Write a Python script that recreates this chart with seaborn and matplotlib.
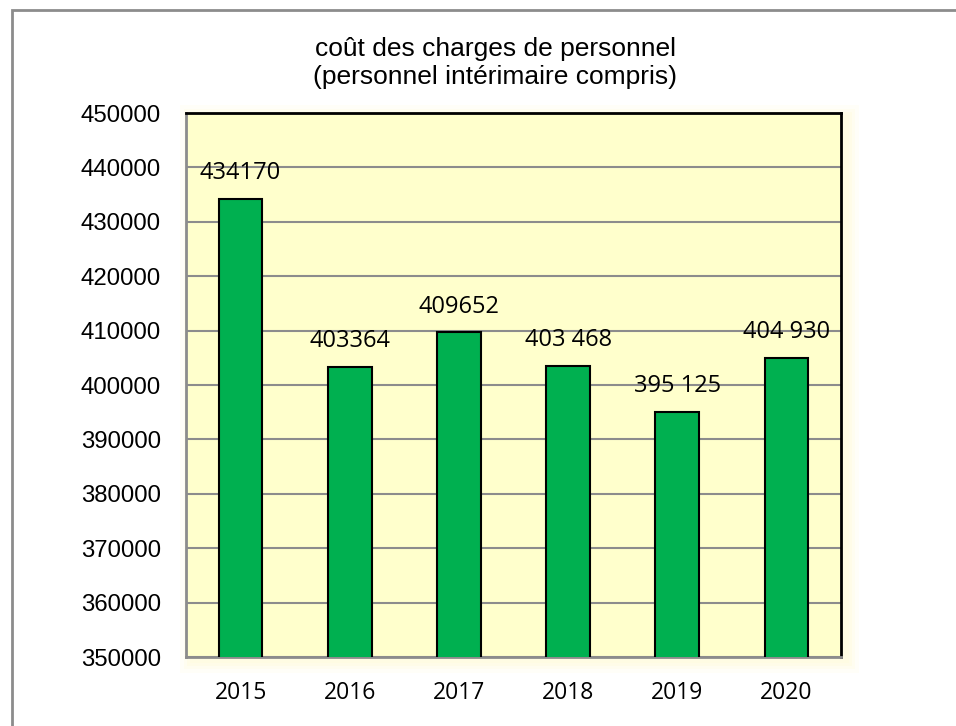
import matplotlib
matplotlib.use("Agg")
import matplotlib.pyplot as plt
import seaborn as sns
import pandas as pd
from matplotlib.patches import Rectangle

years = ["2015", "2016", "2017", "2018", "2019", "2020"]
values = [434170, 403364, 409652, 403468, 395125, 404930]
value_labels = ["434170", "403364", "409652", "403 468", "395 125", "404 930"]
yticks = [350000, 360000, 370000, 380000, 390000, 400000, 410000, 420000, 430000, 440000, 450000]
title = "coût des charges de personnel\n(personnel intérimaire compris)"

sns.set_theme(style="white")
plt.rcParams['font.family'] = ['Liberation Sans', 'DejaVu Sans']
plt.rcParams['text.color'] = 'black'

df = pd.DataFrame({"year": years, "value": values})

W, H = 956, 726
fig = plt.figure(figsize=(W / 100, H / 100), dpi=100)
fig.patch.set_facecolor("white")

# outer frame (only top/left edges visible)
fig.add_artist(Rectangle((12 / W, -0.05), 1.2, (H - 10) / H + 0.05,
                         transform=fig.transFigure, fill=False,
                         edgecolor="#8c8c8c", linewidth=2))

left, right, top, bottom = 186, 841, 113, 657

# soft glow around plot area (mostly below/right)
for k, a in zip([12, 8, 5, 2], [0.2, 0.3, 0.45, 0.6]):
    fig.add_artist(Rectangle(((left - k + 6) / W, (H - bottom - k - 4) / H),
                             (right - left + 2 * k) / W, (bottom - top + 2 * k) / H,
                             transform=fig.transFigure, facecolor="#FFFCE0",
                             edgecolor="none", alpha=a, zorder=0))

ax = fig.add_axes([left / W, (H - bottom) / H, (right - left) / W, (bottom - top) / H])
ax.set_facecolor("#FFFFCC")

sns.barplot(data=df, x="year", y="value", color="#00B050", width=0.4,
            edgecolor="black", linewidth=1.5, saturation=1, ax=ax, zorder=3)

ax.set_ylim(350000, 450000)
ax.set_yticks(yticks)
ax.set_yticklabels([str(t) for t in yticks], fontsize=17.3, family=['Liberation Sans'])
ax.set_xticks(range(len(years)))
ax.set_xticklabels(years, fontsize=16.5, family=['Open Sans'])
ax.set_xlim(-0.5, len(years) - 0.5)
ax.set_xlabel("")
ax.set_ylabel("")
ax.tick_params(axis="both", length=0, colors="black")
ax.tick_params(axis="y", pad=18)
ax.tick_params(axis="x", pad=17)

ax.yaxis.grid(True, color="#8c8c8c", linewidth=1.5, zorder=1)
ax.set_axisbelow(True)

for s in ["top", "right"]:
    ax.spines[s].set_color("black")
    ax.spines[s].set_linewidth(2)
for s in ["left", "bottom"]:
    ax.spines[s].set_color("#8c8c8c")
    ax.spines[s].set_linewidth(2)

for i, (v, lab) in enumerate(zip(values, value_labels)):
    ax.annotate(lab, (i, v), xytext=(0, 10), textcoords="offset points",
                ha="center", va="bottom", fontsize=17, family=['Open Sans'],
                color="black", zorder=5)

fig.text(495 / W, 1 - 63 / H, title, ha="center", va="center",
         fontsize=19, linespacing=1.2, family=['Liberation Sans'], color="black")

fig.savefig("out.png", dpi=100)
